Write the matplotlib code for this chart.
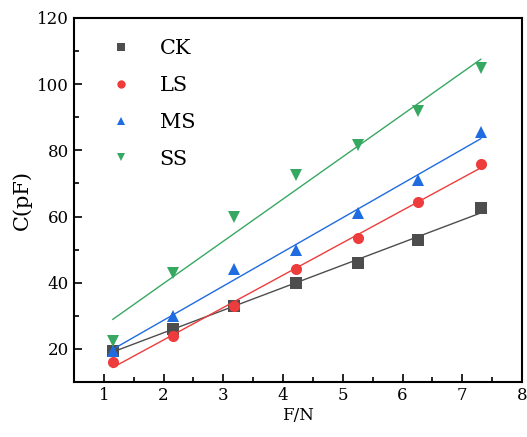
import numpy as np
import matplotlib
matplotlib.use('Agg')
from matplotlib import pyplot as plt
from matplotlib.ticker import MultipleLocator
from matplotlib.lines import Line2D

plt.rcParams['font.family'] = ['DejaVu Serif']

force = [1.15, 2.16, 3.18, 4.21, 5.25, 6.26, 7.31]
ck = [19.5, 26.0, 33.0, 40.0, 46.0, 53.0, 62.5]
ls = [16.0, 24.0, 33.0, 44.0, 53.5, 64.5, 76.0]
ms = [19.5, 30.0, 44.0, 50.0, 61.0, 71.0, 85.5]
ss = [22.5, 43.0, 60.0, 72.5, 81.5, 92.0, 105.0]
labels = ['CK', 'LS', 'MS', 'SS']

series = [ck, ls, ms, ss]
colors = ['#4d4d4d', '#ee3c3c', '#1f6be0', '#37a862']
markers = ['s', 'o', '^', 'v']

fig = plt.figure(figsize=(5.27, 4.37), dpi=100)
ax = fig.add_axes([74/527, 1 - 382/437, 448/527, 364/437])

x = np.array(force)
for y, c, m in zip(series, colors, markers):
    y = np.array(y)
    ax.plot(x, y, linestyle='none', marker=m, color=c, markersize=8, markeredgewidth=0)
    # linear fit drawn between first and last force value
    k, b = np.polyfit(x, y, 1)
    xf = np.array([x[0], x[-1]])
    ax.plot(xf, k * xf + b, color=c, linewidth=1.0)

ax.set_xlim(0.5, 8)
ax.set_ylim(10, 120)
ax.xaxis.set_major_locator(MultipleLocator(1))
ax.xaxis.set_minor_locator(MultipleLocator(0.5))
ax.yaxis.set_major_locator(MultipleLocator(20))
ax.yaxis.set_minor_locator(MultipleLocator(10))
ax.set_xticks(np.arange(1, 9))
ax.set_yticks(np.arange(20, 121, 20))
ax.tick_params(which='both', direction='in', top=False, right=False, labelsize=12, width=1.2)
ax.tick_params(which='major', length=6)
ax.tick_params(which='minor', length=3.5)
for s in ax.spines.values():
    s.set_linewidth(1.5)

ax.set_xlabel('F/N', fontsize=12, labelpad=2)
ax.set_ylabel('C(pF)', fontsize=15, labelpad=4)

handles = [Line2D([], [], linestyle='none', marker=m, color=c, markersize=6, markeredgewidth=0)
           for c, m in zip(colors, markers)]
ax.legend(handles, labels, loc='upper left', frameon=False, fontsize=15,
          handlelength=2.0, handletextpad=0.85, labelspacing=0.85, borderpad=0.4,
          borderaxespad=0, bbox_to_anchor=(0.04, 0.964))

fig.savefig('out.png', dpi=100)
